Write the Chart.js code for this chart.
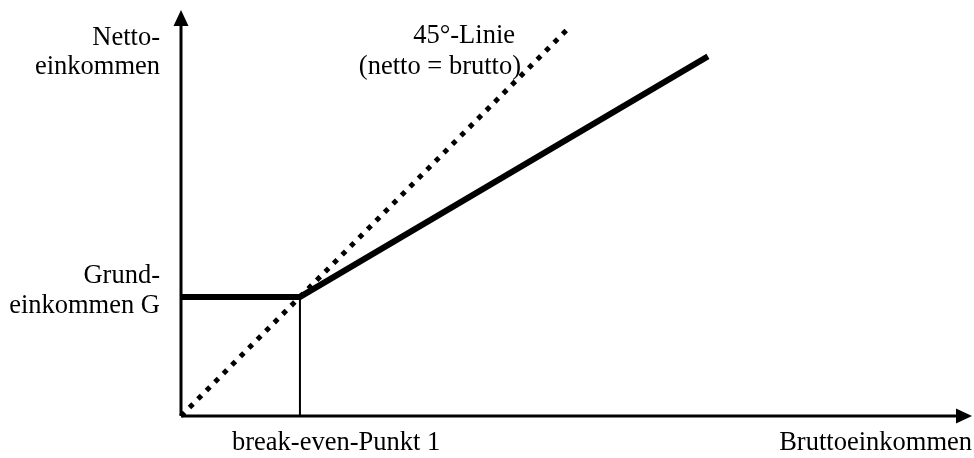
<!DOCTYPE html>
<html>
<head>
<meta charset="utf-8">
<script src="https://cdn.jsdelivr.net/npm/chart.js@4"></script>
<style>
  html, body { margin: 0; padding: 0; background: #fff; }
  #wrap { width: 974px; height: 458px; }
</style>
</head>
<body>
<div id="wrap"><canvas id="my-graph"></canvas></div>
<script>
  // Bruttoeinkommen (x) / Nettoeinkommen (y), break-even point at x = 1, G = 1
  const netX = [0, 1, 4.43];
  const netY = [1, 1, 3.02];
  const diagX = [0, 3.24];
  const diagY = [0, 3.24];
  const breakEvenX = [1, 1];
  const breakEvenY = [0, 1];
  const xMax = 6.65;
  const yMax = 3.41;

  const toPoints = (xs, ys) => xs.map((x, i) => ({ x: x, y: ys[i] }));

  const FONT = '26.5px "Liberation Serif", "Times New Roman", serif';

  const axesPlugin = {
    id: 'axesPlugin',
    afterDraw(chart) {
      const ctx = chart.ctx;
      const xs = chart.scales.x, ys = chart.scales.y;
      const x0 = xs.getPixelForValue(0), y0 = ys.getPixelForValue(0);
      const x1 = xs.getPixelForValue(xMax), y1 = ys.getPixelForValue(yMax);
      ctx.save();
      ctx.strokeStyle = '#000';
      ctx.fillStyle = '#000';
      ctx.lineWidth = 3;
      ctx.beginPath();
      ctx.moveTo(x0, y0);
      ctx.lineTo(x1 - 14, y0);
      ctx.moveTo(x0, y0);
      ctx.lineTo(x0, y1 + 14);
      ctx.stroke();
      // arrow heads
      ctx.beginPath();
      ctx.moveTo(x1, y0);
      ctx.lineTo(x1 - 16, y0 - 7.5);
      ctx.lineTo(x1 - 16, y0 + 7.5);
      ctx.closePath();
      ctx.fill();
      ctx.beginPath();
      ctx.moveTo(x0, y1);
      ctx.lineTo(x0 - 7.5, y1 + 16);
      ctx.lineTo(x0 + 7.5, y1 + 16);
      ctx.closePath();
      ctx.fill();

      ctx.font = FONT;
      ctx.textBaseline = 'alphabetic';
      ctx.textAlign = 'right';
      ctx.fillText('Netto-', 160, 45);
      ctx.fillText('einkommen', 160, 74);
      ctx.fillText('Grund-', 160, 283);
      ctx.fillText('einkommen G', 160, 313);
      ctx.fillText('45°-Linie', 515, 43);
      ctx.fillText('(netto = brutto)', 521, 74);
      ctx.fillText('Bruttoeinkommen', 972, 450);
      ctx.textAlign = 'left';
      ctx.fillText('break-even-Punkt 1', 232, 450);
      ctx.restore();
    }
  };

  new Chart(document.getElementById('my-graph'), {
    type: 'line',
    data: {
      datasets: [
        {
          label: '45°-Linie',
          data: toPoints(diagX, diagY),
          borderColor: '#000',
          borderWidth: 5,
          borderDash: [5, 7],
          pointRadius: 0,
          clip: false
        },
        {
          label: 'break-even',
          data: toPoints(breakEvenX, breakEvenY),
          borderColor: '#000',
          borderWidth: 2,
          pointRadius: 0,
          clip: false
        },
        {
          label: 'Nettoeinkommen',
          data: toPoints(netX, netY),
          borderColor: '#000',
          borderWidth: 6,
          pointRadius: 0,
          clip: false
        }
      ]
    },
    options: {
      responsive: true,
      maintainAspectRatio: false,
      animation: false,
      layout: { padding: { left: 181, right: 2, top: 10, bottom: 42 } },
      scales: {
        x: { type: 'linear', min: 0, max: xMax, display: false },
        y: { type: 'linear', min: 0, max: yMax, display: false }
      },
      plugins: {
        legend: { display: false },
        tooltip: { enabled: false }
      }
    },
    plugins: [axesPlugin]
  });
</script>
</body>
</html>
